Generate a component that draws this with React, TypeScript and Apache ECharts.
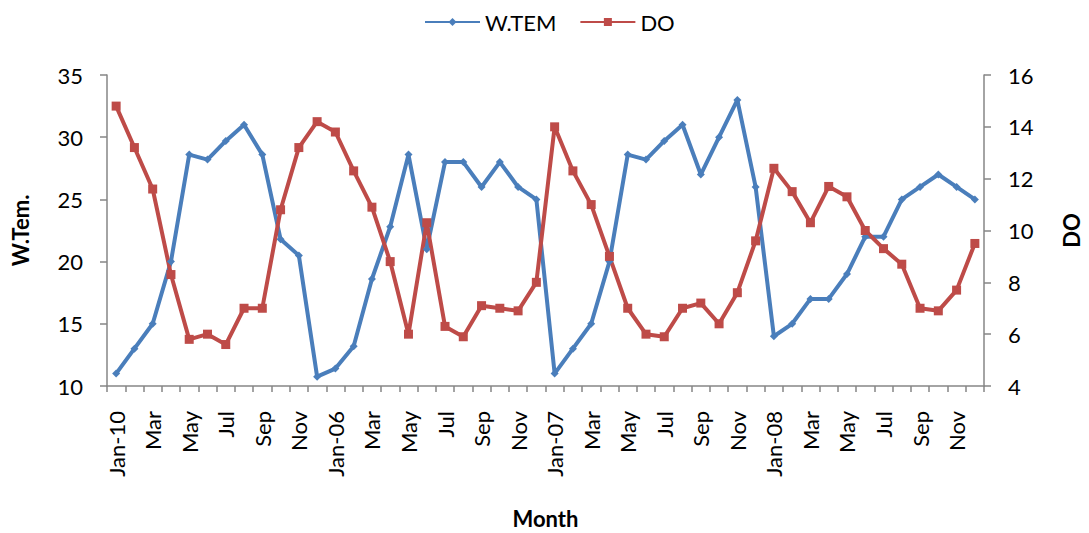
import React, { useEffect, useRef } from "react";
import * as echarts from "echarts";

const months = [
  "Jan-10", "Feb", "Mar", "Apr", "May", "Jun", "Jul", "Aug", "Sep", "Oct", "Nov", "Dec",
  "Jan-06", "Feb", "Mar", "Apr", "May", "Jun", "Jul", "Aug", "Sep", "Oct", "Nov", "Dec",
  "Jan-07", "Feb", "Mar", "Apr", "May", "Jun", "Jul", "Aug", "Sep", "Oct", "Nov", "Dec",
  "Jan-08", "Feb", "Mar", "Apr", "May", "Jun", "Jul", "Aug", "Sep", "Oct", "Nov", "Dec",
];

const wTem = [
  11, 13, 15, 20, 28.6, 28.2, 29.7, 31, 28.6, 21.8, 20.5, 10.75,
  11.4, 13.2, 18.6, 22.8, 28.6, 21, 28, 28, 26, 28, 26, 25,
  11, 13, 15, 20, 28.6, 28.2, 29.7, 31, 27, 30, 33, 26,
  14, 15, 17, 17, 19, 22, 22, 25, 26, 27, 26, 25,
];

const dO = [
  14.8, 13.2, 11.6, 8.3, 5.8, 6.0, 5.6, 7.0, 7.0, 10.8, 13.2, 14.2,
  13.8, 12.3, 10.9, 8.8, 6.0, 10.3, 6.3, 5.9, 7.1, 7.0, 6.9, 8.0,
  14.0, 12.3, 11.0, 9.0, 7.0, 6.0, 5.9, 7.0, 7.2, 6.4, 7.6, 9.6,
  12.4, 11.5, 10.3, 11.7, 11.3, 10.0, 9.3, 8.7, 7.0, 6.9, 7.7, 9.5,
];

const FONT = "Lato";
const AXIS_COLOR = "#868686";
const FS = 22;

export default function App() {
  const ref = useRef<HTMLDivElement>(null);

  useEffect(() => {
    if (!ref.current) return;
    const chart = echarts.init(ref.current, undefined, { renderer: "svg" });
    chart.setOption({
      animation: false,
      textStyle: { fontFamily: FONT },
      legend: {
        top: 6,
        left: 419,
        itemWidth: 55,
        itemHeight: 10,
        itemGap: 23,
        textStyle: { fontSize: FS, color: "#000", fontFamily: FONT },
        data: ["W.TEM", "DO"],
      },
      grid: {
        left: 107,
        right: 105,
        top: 75,
        bottom: 147,
        containLabel: false,
        outerBoundsMode: "none",
      },
      xAxis: {
        type: "category",
        data: months,
        boundaryGap: true,
        name: "Month",
        nameLocation: "middle",
        nameGap: 121,
        nameTextStyle: { fontSize: FS, fontWeight: "bold", color: "#000", fontFamily: FONT },
        axisLine: { lineStyle: { color: AXIS_COLOR, width: 1.5 } },
        axisTick: { show: true, interval: 0, length: 6, lineStyle: { color: AXIS_COLOR, width: 1.5 } },
        axisLabel: {
          interval: 1,
          rotate: 90,
          fontSize: FS,
          color: "#000",
          fontFamily: FONT,
          margin: 25,
        },
        splitLine: { show: false },
      },
      yAxis: [
        {
          type: "value",
          min: 10,
          max: 35,
          interval: 5,
          name: "W.Tem.",
          nameLocation: "middle",
          nameRotate: 90,
          nameGap: 76,
          nameTextStyle: { fontSize: FS, fontWeight: "bold", color: "#000", fontFamily: FONT },
          axisLine: { show: true, lineStyle: { color: AXIS_COLOR, width: 1.5 } },
          axisTick: { show: true, length: 7, lineStyle: { color: AXIS_COLOR, width: 1.5 } },
          axisLabel: { fontSize: FS, color: "#000", fontFamily: FONT, margin: 24 },
          splitLine: { show: false },
        },
        {
          type: "value",
          min: 4,
          max: 16,
          interval: 2,
          name: "DO",
          nameLocation: "middle",
          nameRotate: 90,
          nameGap: 76,
          nameTextStyle: { fontSize: FS, fontWeight: "bold", color: "#000", fontFamily: FONT },
          axisLine: { show: true, lineStyle: { color: AXIS_COLOR, width: 1.5 } },
          axisTick: { show: true, length: 7, lineStyle: { color: AXIS_COLOR, width: 1.5 } },
          axisLabel: { fontSize: FS, color: "#000", fontFamily: FONT, margin: 24 },
          splitLine: { show: false },
        },
      ],
      series: [
        {
          name: "W.TEM",
          type: "line",
          yAxisIndex: 0,
          data: wTem,
          symbol: "diamond",
          symbolSize: 8,
          lineStyle: { color: "#4A7EBB", width: 4 },
          itemStyle: { color: "#4A7EBB" },
        },
        {
          name: "DO",
          type: "line",
          yAxisIndex: 1,
          data: dO,
          symbol: "rect",
          symbolSize: 9,
          lineStyle: { color: "#BE4B48", width: 4 },
          itemStyle: { color: "#BE4B48" },
        },
      ],
    });
    return () => chart.dispose();
  }, []);

  return (
    <div
      ref={ref}
      style={{ position: "fixed", top: 0, left: 0, width: 1089, height: 533, background: "#fff" }}
    />
  );
}
